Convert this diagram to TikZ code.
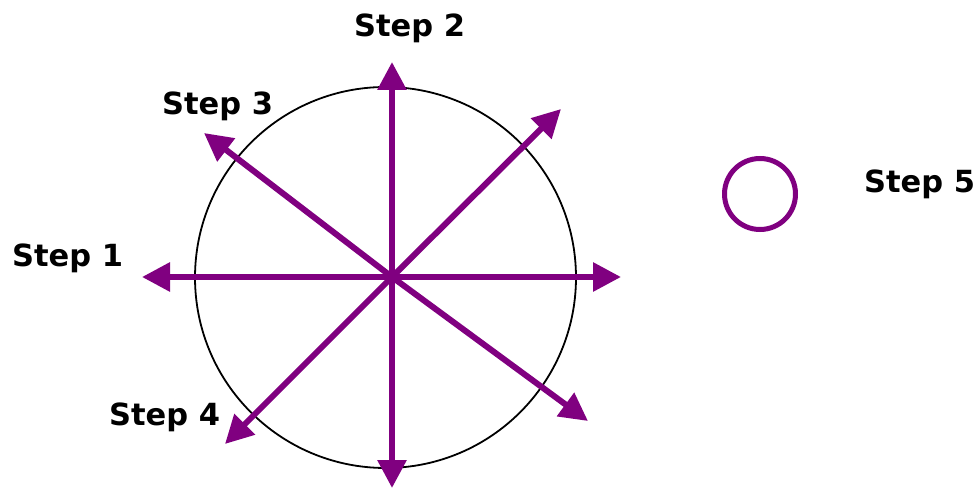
\documentclass[tikz,border=0pt]{standalone}
\usepackage{fontspec}
\setmainfont{DejaVu Sans}
\usepackage{tikz}
\usetikzlibrary{arrows.meta,positioning}
\usepackage{xcolor}
\definecolor{cP}{RGB}{128,0,128}

\begin{document}
\begin{tikzpicture}[x=1pt, y=-1pt,
  spoke/.style={cP, line width=6pt, -{Triangle[length=28pt,width=28pt]}},
  steplabel/.style={anchor=base west, inner sep=0pt, font=\bfseries\fontsize{30.5}{36}\selectfont}]
  \useasboundingbox (0,0) rectangle (978,489);
  % ring
  \node[circle, draw, line width=1.8pt, minimum size=381pt, inner sep=0pt] (ring) at (385.5,277.5) {};
  % spokes
  \coordinate (ctr) at (392,277);
  \foreach \n/\x/\y in {up/392/62, down/392/488, left/142/277, right/621/277,
                        ur/561/109, ll/225/444, ul/204/133, lr/588/421} {
    \coordinate (\n) at (\x,\y);
  }
  \foreach \n in {up, down, left, right, ur, ll, ul, lr} {
    \draw[spoke] (ctr) -- (\n);
  }
  % small circle
  \node[circle, draw=cP, line width=5pt, minimum size=71pt, inner sep=0pt] (dot) at (760,194) {};
  % labels
  \node[steplabel] (s2) at (354,37) {Step 2};
  \node[steplabel] (s3) at (162,115) {Step 3};
  \node[steplabel] (s1) at (12,267) {Step 1};
  \node[steplabel] (s4) at (109,425) {Step 4};
  \node[steplabel] (s5) at (864,193) {Step 5};
\end{tikzpicture}
\end{document}
